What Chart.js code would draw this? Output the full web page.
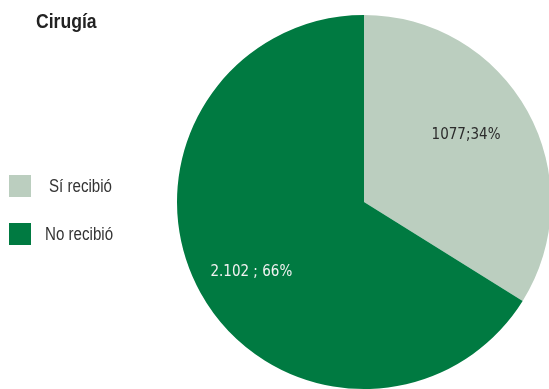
<!DOCTYPE html>
<html>
<head>
<meta charset="utf-8">
<script src="https://cdn.jsdelivr.net/npm/chart.js@4"></script>
<style>
  html, body { margin: 0; padding: 0; background: #fff; overflow: hidden; width: 549px; height: 389px; }
  #wrap { position: absolute; left: 0; top: 0; width: 560px; height: 400px; }
</style>
</head>
<body>
<div id="wrap"><canvas id="pieChart" width="560" height="400"></canvas></div>
<script>
// データ
const chartTitle = 'Cirugía';
const categories = ['Sí recibió', 'No recibió'];
const values = [1077, 2102];
const percents = [34, 66];
const valueLabels = ['1077;34%', '2.102 ; 66%'];
const sliceColors = ['#bbcebf', '#007a41'];
const labelColors = ['#2b2b2b', '#f2f2f2'];

// 細長い文字を描く (横方向に縮める)
function narrowText(ctx, text, x, y, squeeze) {
    ctx.save();
    ctx.translate(x, y);
    ctx.scale(squeeze, 1);
    ctx.fillText(text, 0, 0);
    ctx.restore();
}

// 凡例・タイトル・ラベルを描くプラグイン
const decorPlugin = {
    id: 'decor',
    afterDraw(chart) {
        const ctx = chart.ctx;
        ctx.save();

        // タイトル
        ctx.fillStyle = '#222222';
        ctx.font = 'bold 20px "Liberation Sans", sans-serif';
        ctx.textAlign = 'left';
        ctx.textBaseline = 'alphabetic';
        narrowText(ctx, chartTitle, 36, 28, 0.88);

        // 凡例
        const legendY = [175, 223];
        const legendTextX = [49, 45];
        chart.data.labels.forEach((label, i) => {
            ctx.fillStyle = sliceColors[i];
            ctx.fillRect(9, legendY[i], 22, 22);
            ctx.fillStyle = '#333333';
            ctx.font = '18px "Liberation Sans", sans-serif';
            narrowText(ctx, label, legendTextX[i], legendY[i] + 17, 0.84);
        });

        // スライスのラベル
        const meta = chart.getDatasetMeta(0);
        const radiusFrac = [0.656, 0.706];
        const angleShift = [-4.7, -2.4];
        ctx.font = '15px "DejaVu Sans Condensed", sans-serif';
        ctx.textAlign = 'center';
        ctx.textBaseline = 'middle';
        meta.data.forEach((arc, i) => {
            const p = arc.getProps(['x', 'y', 'startAngle', 'endAngle', 'outerRadius'], true);
            const mid = (p.startAngle + p.endAngle) / 2 + angleShift[i] * Math.PI / 180;
            const r = p.outerRadius * radiusFrac[i];
            ctx.fillStyle = labelColors[i];
            ctx.fillText(valueLabels[i], p.x + Math.cos(mid) * r, p.y + Math.sin(mid) * r + 1);
        });

        ctx.restore();
    }
};

new Chart(document.getElementById('pieChart'), {
    type: 'pie',
    data: {
        labels: categories,
        datasets: [{
            data: values,
            backgroundColor: sliceColors,
            borderWidth: 0
        }]
    },
    options: {
        responsive: false,
        animation: false,
        layout: {
            padding: { left: 177, top: 15, right: 9, bottom: 11 }
        },
        plugins: {
            legend: { display: false },
            title: { display: false },
            tooltip: { enabled: false }
        }
    },
    plugins: [decorPlugin]
});
</script>
</body>
</html>
